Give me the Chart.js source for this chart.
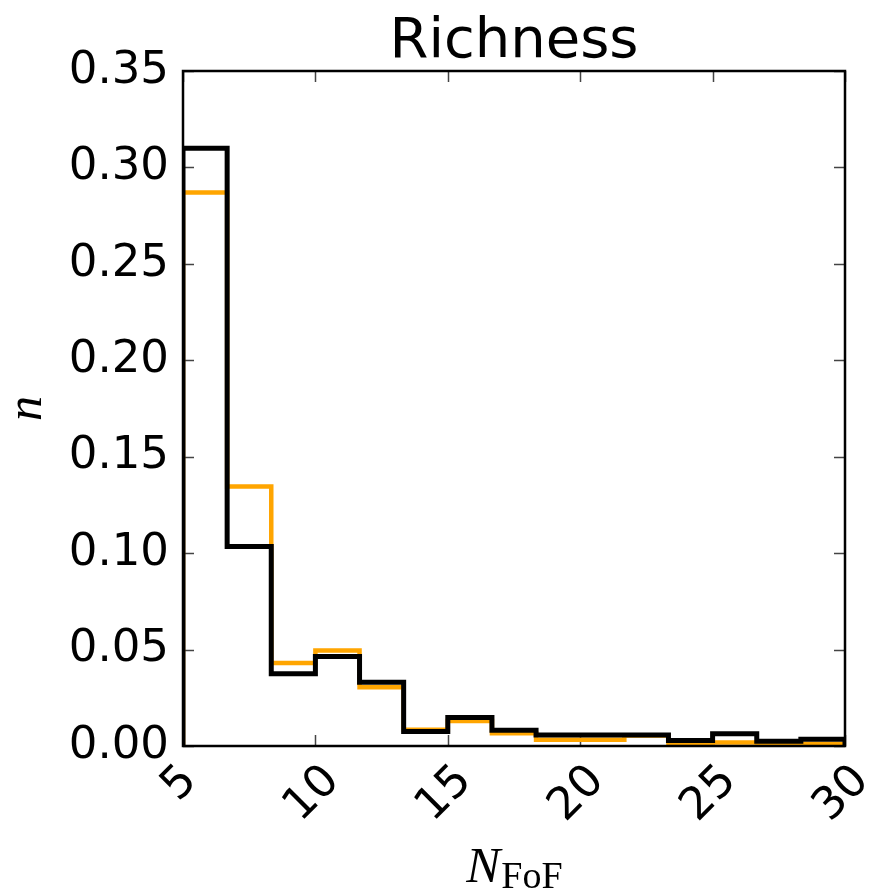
<!DOCTYPE html>
<html>
<head>
<meta charset="utf-8">
<script src="https://cdn.jsdelivr.net/npm/chart.js@4.4.1/dist/chart.umd.min.js"></script>
<style>
  html, body { margin: 0; padding: 0; background: #fff; }
  #wrap { width: 878px; height: 895px; }
</style>
</head>
<body>
<div id="wrap"><canvas id="chart" width="878" height="895"></canvas></div>
<script>
// histogram bin edges (N_FoF)
const binEdges = [5, 6.667, 8.333, 10, 11.667, 13.333, 15, 16.667, 18.333, 20,
                  21.667, 23.333, 25, 26.667, 28.333, 30];

// normalised counts per bin
const orangeCounts = [0.2870, 0.1346, 0.0431, 0.0495, 0.0305, 0.0084, 0.0130, 0.0066,
                      0.0032, 0.0032, 0.0055, 0.0010, 0.0018, 0.0008, 0.0011];
const blackCounts = [0.3100, 0.1034, 0.0374, 0.0464, 0.0331, 0.0075, 0.0148, 0.0082,
                     0.0057, 0.0057, 0.0057, 0.0028, 0.0063, 0.0025, 0.0035];

const xTicks = [5, 10, 15, 20, 25, 30];
const yTicks = [0, 0.05, 0.10, 0.15, 0.20, 0.25, 0.30, 0.35];

const chartTitle = 'Richness';

// outline of a step histogram: up at the first edge, down at the last one
function stepPoints(values) {
  const last = binEdges.length - 1;
  const pts = [{ x: binEdges[0], y: 0 }];
  values.forEach((v, i) => pts.push({ x: binEdges[i], y: v }));
  pts.push({ x: binEdges[last], y: values[values.length - 1] });
  pts.push({ x: binEdges[last], y: 0 });
  return pts;
}

const tickFont = { family: 'DejaVu Sans', size: 45 };

// matplotlib look: inward ticks on all four sides, closed frame,
// 45 degree x labels centred under the tick, math axis labels,
// title centred over the axes rather than the canvas
const axesDecor = {
  id: 'axesDecor',
  beforeDatasetsDraw(chart) {
    const { ctx, chartArea: a, scales: { x, y } } = chart;
    ctx.save();
    ctx.strokeStyle = '#444';
    ctx.lineWidth = 1.5;
    ctx.beginPath();
    xTicks.forEach(v => {
      const px = Math.round(x.getPixelForValue(v)) + 0.5;
      ctx.moveTo(px, a.bottom); ctx.lineTo(px, a.bottom - 11);
      ctx.moveTo(px, a.top); ctx.lineTo(px, a.top + 11);
    });
    yTicks.forEach(v => {
      const py = Math.round(y.getPixelForValue(v)) + 0.5;
      ctx.moveTo(a.left, py); ctx.lineTo(a.left + 11, py);
      ctx.moveTo(a.right, py); ctx.lineTo(a.right - 11, py);
    });
    ctx.stroke();
    ctx.restore();
  },
  afterDatasetsDraw(chart) {
    const { ctx, chartArea: a } = chart;
    ctx.save();
    ctx.strokeStyle = '#000';
    ctx.lineWidth = 2.5;
    ctx.strokeRect(a.left, a.top, a.right - a.left, a.bottom - a.top);
    ctx.restore();
  },
  afterDraw(chart) {
    const { ctx, chartArea: a, scales: { x } } = chart;
    const midX = (a.left + a.right) / 2;
    ctx.save();
    ctx.fillStyle = '#000';

    // title
    ctx.font = '56px "DejaVu Sans"';
    ctx.textAlign = 'center';
    ctx.textBaseline = 'alphabetic';
    ctx.fillText(chartTitle, midX, a.top - 14);

    // x tick labels
    ctx.font = '45px "DejaVu Sans"';
    ctx.textBaseline = 'middle';
    xTicks.forEach(v => {
      const label = String(v);
      const w = ctx.measureText(label).width;
      const cx = x.getPixelForValue(v) - 3;
      const cy = a.bottom + 18 + (w + 28) * 0.3536;
      ctx.setTransform(1, 0, 0, 1, cx, cy);
      ctx.rotate(-Math.PI / 4);
      ctx.fillText(label, 0, 0);
    });
    ctx.setTransform(1, 0, 0, 1, 0, 0);

    // y label: italic n, rotated
    ctx.font = 'italic 50px "Liberation Serif"';
    ctx.textBaseline = 'alphabetic';
    ctx.translate(41, (a.top + a.bottom) / 2);
    ctx.rotate(-Math.PI / 2);
    ctx.fillText('n', 0, 0);
    ctx.setTransform(1, 0, 0, 1, 0, 0);

    // x label: N with roman subscript FoF
    const mainFont = 'italic 51px "Liberation Serif"';
    const subFont = '38px "Liberation Serif"';
    ctx.font = mainFont;
    const wMain = ctx.measureText('N').width;
    ctx.font = subFont;
    const wSub = ctx.measureText('FoF').width;
    const x0 = midX - (wMain + wSub) / 2;
    const base = a.bottom + 136;
    ctx.textAlign = 'left';
    ctx.font = mainFont;
    ctx.fillText('N', x0, base);
    ctx.font = subFont;
    ctx.fillText('FoF', x0 + wMain + 1, base + 6);
    ctx.restore();
  }
};

new Chart(document.getElementById('chart'), {
  type: 'line',
  data: {
    datasets: [
      {
        data: stepPoints(blackCounts),
        borderColor: '#000000',
        borderWidth: 5,
        order: 0
      },
      {
        data: stepPoints(orangeCounts),
        borderColor: '#FFA500',
        borderWidth: 4.5,
        order: 1
      }
    ]
  },
  options: {
    responsive: false,
    animation: false,
    devicePixelRatio: 1,
    layout: { padding: { top: 71, right: 33 } },
    elements: {
      line: { stepped: 'before', tension: 0, fill: false, borderJoinStyle: 'miter', borderCapStyle: 'butt' },
      point: { radius: 0, hoverRadius: 0 }
    },
    plugins: {
      legend: { display: false },
      tooltip: { enabled: false },
      title: { display: false }
    },
    scales: {
      x: {
        type: 'linear',
        min: 5,
        max: 30,
        afterBuildTicks: s => { s.ticks = xTicks.map(v => ({ value: v })); },
        afterFit: s => {
          s.height = 149;
          s.paddingLeft = 0;
          s.paddingRight = 0;
        },
        ticks: { display: false },
        grid: { display: false, drawTicks: false },
        border: { display: false }
      },
      y: {
        min: 0,
        max: 0.35,
        afterBuildTicks: s => { s.ticks = yTicks.map(v => ({ value: v })); },
        afterFit: s => { s.width = 183; },
        ticks: {
          color: '#000',
          font: tickFont,
          padding: 14,
          callback: v => v.toFixed(2)
        },
        grid: { display: false, drawTicks: false },
        border: { display: false }
      }
    }
  },
  plugins: [axesDecor]
});
</script>
</body>
</html>
